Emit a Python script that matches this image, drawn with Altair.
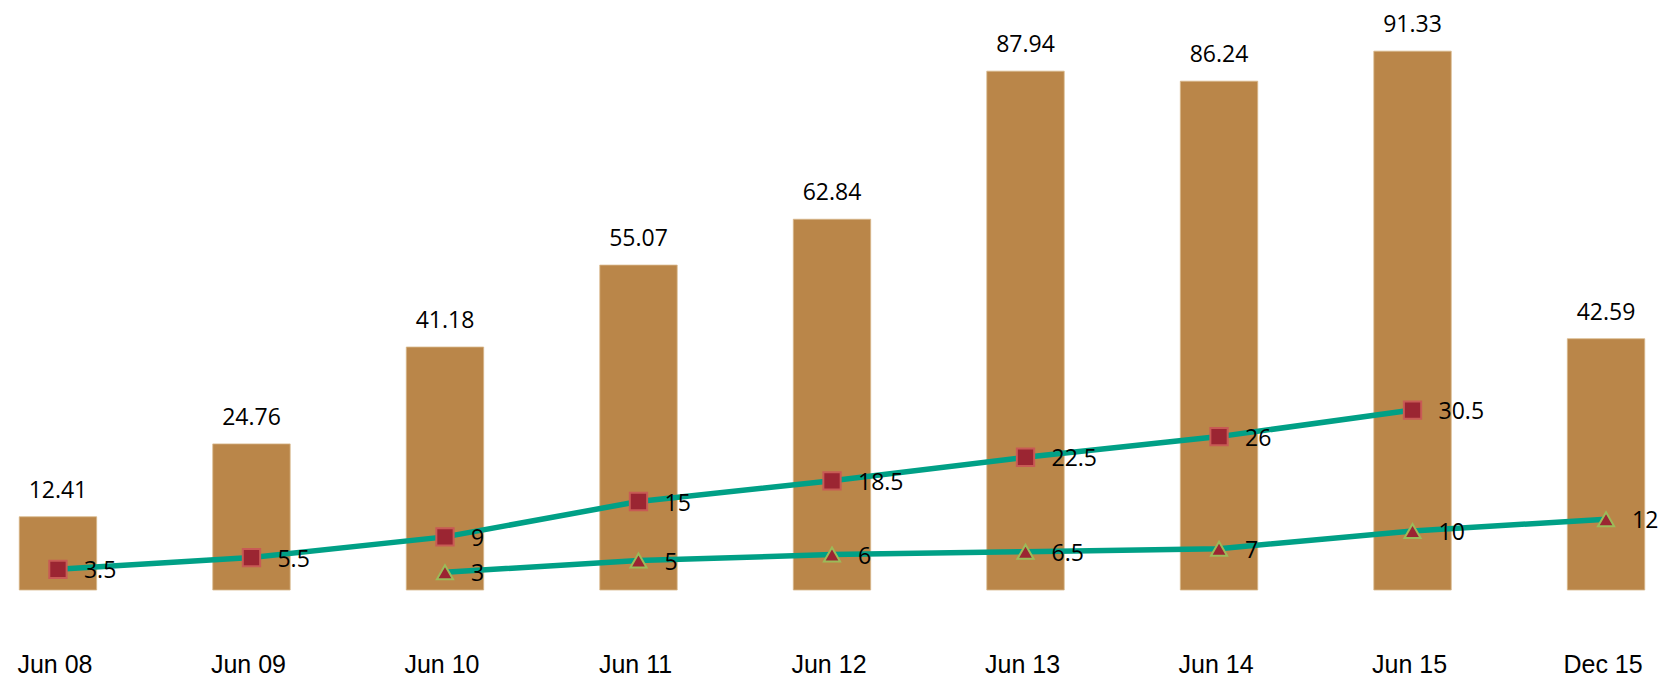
import altair as alt
import pandas as pd

periods = ["Jun 08", "Jun 09", "Jun 10", "Jun 11", "Jun 12", "Jun 13", "Jun 14", "Jun 15", "Dec 15"]
bar_values = [12.41, 24.76, 41.18, 55.07, 62.84, 87.94, 86.24, 91.33, 42.59]
square_values = [3.5, 5.5, 9, 15, 18.5, 22.5, 26, 30.5, None]
triangle_values = [None, None, 3, 5, 6, 6.5, 7, 10, 12]

def lab(v):
    return None if v is None else f"{v:g}"

bars = pd.DataFrame({"period": periods, "value": bar_values,
                     "label": [f"{v:.2f}" for v in bar_values]})
rows = []
for p, v in zip(periods, square_values):
    if v is not None:
        rows.append({"period": p, "value": v, "series": "A", "label": lab(v)})
for p, v in zip(periods, triangle_values):
    if v is not None:
        rows.append({"period": p, "value": v, "series": "B", "label": lab(v)})
lines = pd.DataFrame(rows)

xenc = alt.X("period:N", sort=periods, title=None,
             scale=alt.Scale(paddingInner=0.6, paddingOuter=0.084),
             axis=alt.Axis(labelAngle=0, ticks=False, domain=False, grid=False,
                           labelFont="Liberation Sans", labelFontSize=25,
                           labelColor="#000000", labelBaseline="alphabetic",
                           labelPadding=82, labelOffset=-3))
yscale = alt.Scale(domain=[0, 100], nice=False, zero=True)
yenc = alt.Y("value:Q", scale=yscale, axis=None)

bar_layer = alt.Chart(bars).mark_bar(color="#BA8649", stroke="#D8B88A", strokeWidth=0.8).encode(x=xenc, y=yenc)
bar_text = alt.Chart(bars).mark_text(font="Open Sans", fontSize=23, color="#000000",
                                     baseline="alphabetic", dy=-19).encode(
    x=alt.X("period:N", sort=periods), y=yenc, text="label:N")

line_layer = alt.Chart(lines).mark_line(color="#00A086", strokeWidth=5.5).encode(
    x=alt.X("period:N", sort=periods), y=yenc, detail="series:N")

sq = alt.Chart(lines).transform_filter(alt.datum.series == "A").mark_point(
    shape="square", filled=True, size=300, fill="#9B2532", stroke="#C85A55",
    strokeWidth=2, opacity=1).encode(x=alt.X("period:N", sort=periods), y=yenc)
tri = alt.Chart(lines).transform_filter(alt.datum.series == "B").mark_point(
    shape="triangle-up", filled=True, size=260, fill="#9B2532", stroke="#9BBB59",
    strokeWidth=2, opacity=1).encode(x=alt.X("period:N", sort=periods), y=yenc)

pt_text = alt.Chart(lines).mark_text(font="Open Sans", fontSize=23, color="#000000",
                                     align="left", baseline="middle", dx=26, dy=2).encode(
    x=alt.X("period:N", sort=periods), y=yenc, text="label:N")

chart = alt.layer(bar_layer, bar_text, line_layer, sq, tri, pt_text).properties(
    width=1658, height=590,
    autosize=alt.AutoSizeParams(type="none"),
    padding={"left": 3, "top": 0, "right": 0, "bottom": 89},
).configure(background="#ffffff").configure_view(stroke=None, strokeWidth=0)

chart.save("out.html", embed_options={"renderer": "svg", "actions": False})
